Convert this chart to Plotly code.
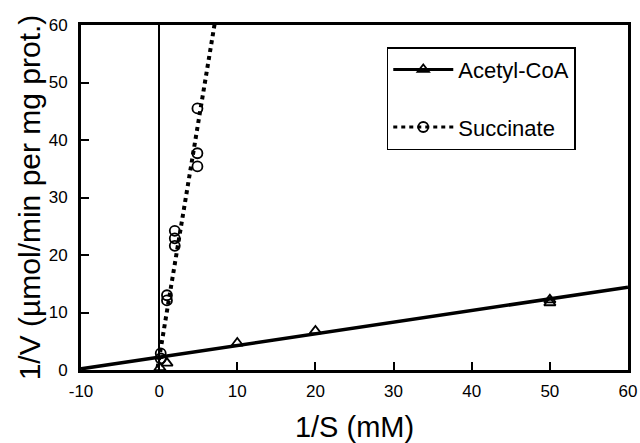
import plotly.graph_objects as go

# Data (Lineweaver-Burk plot)
acetyl_x = [0.1, 1.0, 10, 20, 50, 50]
acetyl_y = [0.4, 1.2, 4.7, 6.8, 12.2, 11.7]
succ_x = [0.2, 0.2, 1.0, 1.0, 2.0, 2.0, 2.0, 4.9, 4.9, 4.9]
succ_y = [2.9, 2.0, 13.0, 12.1, 24.2, 22.9, 21.6, 45.5, 37.7, 35.4]
acetyl_fit_x = [-10, 60]
acetyl_fit_y = [0.2, 14.4]
succ_fit_x = [-0.2, 7.2]
succ_fit_y = [0.4, 61.0]
x_ticks = [-10, 0, 10, 20, 30, 40, 50, 60]
x_labels = ["-10", "0", "10", "20", "30", "40", "50", "60"]
y_ticks = [0, 10, 20, 30, 40, 50, 60]

FONT = "Arial, Liberation Sans, Helvetica, sans-serif"

fig = go.Figure()
fig.add_trace(go.Scatter(x=acetyl_fit_x, y=acetyl_fit_y, mode="lines",
                         line=dict(color="black", width=3.5), showlegend=False, hoverinfo="skip"))
fig.add_trace(go.Scatter(x=succ_fit_x, y=succ_fit_y, mode="lines",
                         line=dict(color="black", width=4, dash="4px,4px"),
                         showlegend=False, hoverinfo="skip"))
fig.add_trace(go.Scatter(x=acetyl_x, y=acetyl_y, mode="markers",
                         marker=dict(symbol="triangle-up-open", size=10, color="black",
                                     line=dict(width=1.8)), showlegend=False))
fig.add_trace(go.Scatter(x=succ_x, y=succ_y, mode="markers",
                         marker=dict(symbol="circle-open", size=10, color="black",
                                     line=dict(width=1.8)), showlegend=False))
# legend entries
fig.add_trace(go.Scatter(x=[None], y=[None], mode="lines+markers", name="Acetyl-CoA",
                         legendgroup="a",
                         line=dict(color="black", width=3),
                         marker=dict(symbol="triangle-up-open", size=10, color="black",
                                     line=dict(width=1.8))))
fig.add_trace(go.Scatter(x=[None], y=[None], mode="lines+markers", name="Succinate",
                         legendgroup="b",
                         line=dict(color="black", width=3, dash="4px,4px"),
                         marker=dict(symbol="circle-open", size=10, color="black",
                                     line=dict(width=1.8))))

fig.update_layout(
    width=640, height=443,
    margin=dict(l=81, r=12, t=25, b=73, autoexpand=False),
    paper_bgcolor="white", plot_bgcolor="white",
    font=dict(family=FONT, color="black", size=17),
    legend=dict(x=0.559, y=0.936, xanchor="left", yanchor="top",
                bordercolor="black", borderwidth=1.5, bgcolor="white",
                font=dict(size=22, family=FONT), traceorder="grouped",
                tracegroupgap=26, itemwidth=60),
    xaxis=dict(range=[-10, 60], tickvals=x_ticks, ticktext=x_labels, ticks="inside", ticklen=8,
               tickwidth=1.5, tickcolor="black", showline=True, linecolor="black",
               linewidth=2.5, mirror=True, showgrid=False, zeroline=True,
               zerolinecolor="black", zerolinewidth=1.5, automargin=False,
               tickfont=dict(size=17), ticklabelstandoff=4,
               title=dict(text="1/S (mM)", font=dict(size=29), standoff=22)),
    yaxis=dict(range=[0, 60], tickvals=y_ticks, ticks="inside", ticklen=8,
               tickwidth=1.5, tickcolor="black", showline=True, linecolor="black",
               linewidth=3, mirror=True, showgrid=False, zeroline=False,
               automargin=False, tickfont=dict(size=17), ticklabelstandoff=7,
               title=dict(text="1/V (µmol/min per mg prot.)", font=dict(size=30), standoff=0)),
)

fig.write_html("out.html")
